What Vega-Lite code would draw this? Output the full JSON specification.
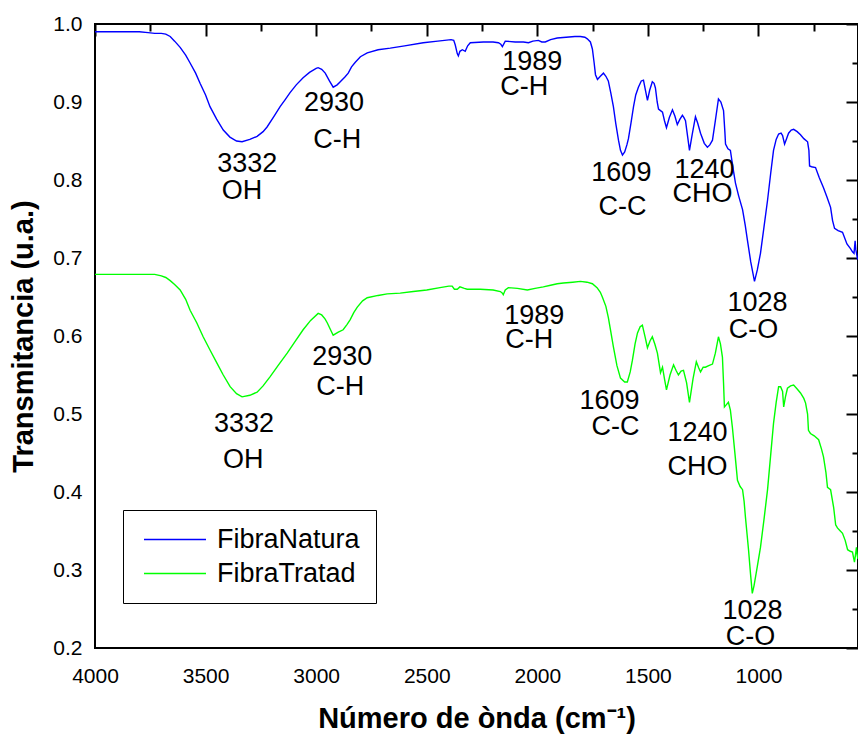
{
  "$schema": "https://vega.github.io/schema/vega-lite/v6.json",
  "width": 763,
  "height": 624,
  "autosize": {"type": "none"},
  "padding": {"left": 95, "top": 24, "right": 0, "bottom": 92},
  "background": "white",
  "config": {
    "view": {"stroke": "black", "strokeWidth": 2, "fill": null},
    "font": "Liberation Sans",
    "axis": {"grid": true, "ticks": false, "domain": false, "gridColor": "black", "gridWidth": 2, "gridCap": "butt", "gridOpacity": 1, "labelColor": "black", "labelFont": "Liberation Sans", "labelFontSize": 21, "titleColor": "black", "titleFont": "Liberation Sans", "titleFontSize": 29, "titleFontWeight": "bold"}
  },
  "datasets": {
    "spectra": [
      {"serie": "FibraNatura", "wn": 4000, "T": 0.990}, {"serie": "FibraNatura", "wn": 3900, "T": 0.990}, {"serie": "FibraNatura", "wn": 3800, "T": 0.990}, {"serie": "FibraNatura", "wn": 3760, "T": 0.989}, {"serie": "FibraNatura", "wn": 3730, "T": 0.988}, {"serie": "FibraNatura", "wn": 3700, "T": 0.988}, {"serie": "FibraNatura", "wn": 3680, "T": 0.987}, {"serie": "FibraNatura", "wn": 3660, "T": 0.984}, {"serie": "FibraNatura", "wn": 3640, "T": 0.978}, {"serie": "FibraNatura", "wn": 3615, "T": 0.970}, {"serie": "FibraNatura", "wn": 3590, "T": 0.960}, {"serie": "FibraNatura", "wn": 3570, "T": 0.950}, {"serie": "FibraNatura", "wn": 3545, "T": 0.937}, {"serie": "FibraNatura", "wn": 3525, "T": 0.924}, {"serie": "FibraNatura", "wn": 3500, "T": 0.909}, {"serie": "FibraNatura", "wn": 3480, "T": 0.894}, {"serie": "FibraNatura", "wn": 3450, "T": 0.878}, {"serie": "FibraNatura", "wn": 3420, "T": 0.864}, {"serie": "FibraNatura", "wn": 3390, "T": 0.855}, {"serie": "FibraNatura", "wn": 3360, "T": 0.850}, {"serie": "FibraNatura", "wn": 3335, "T": 0.849}, {"serie": "FibraNatura", "wn": 3300, "T": 0.852}, {"serie": "FibraNatura", "wn": 3267, "T": 0.856}, {"serie": "FibraNatura", "wn": 3240, "T": 0.862}, {"serie": "FibraNatura", "wn": 3222, "T": 0.868}, {"serie": "FibraNatura", "wn": 3190, "T": 0.882}, {"serie": "FibraNatura", "wn": 3163, "T": 0.894}, {"serie": "FibraNatura", "wn": 3140, "T": 0.903}, {"serie": "FibraNatura", "wn": 3118, "T": 0.912}, {"serie": "FibraNatura", "wn": 3090, "T": 0.922}, {"serie": "FibraNatura", "wn": 3059, "T": 0.931}, {"serie": "FibraNatura", "wn": 3030, "T": 0.938}, {"serie": "FibraNatura", "wn": 3000, "T": 0.943}, {"serie": "FibraNatura", "wn": 2991, "T": 0.944}, {"serie": "FibraNatura", "wn": 2975, "T": 0.942}, {"serie": "FibraNatura", "wn": 2959, "T": 0.937}, {"serie": "FibraNatura", "wn": 2940, "T": 0.927}, {"serie": "FibraNatura", "wn": 2923, "T": 0.919}, {"serie": "FibraNatura", "wn": 2905, "T": 0.922}, {"serie": "FibraNatura", "wn": 2891, "T": 0.926}, {"serie": "FibraNatura", "wn": 2870, "T": 0.932}, {"serie": "FibraNatura", "wn": 2855, "T": 0.937}, {"serie": "FibraNatura", "wn": 2840, "T": 0.945}, {"serie": "FibraNatura", "wn": 2823, "T": 0.951}, {"serie": "FibraNatura", "wn": 2800, "T": 0.958}, {"serie": "FibraNatura", "wn": 2769, "T": 0.963}, {"serie": "FibraNatura", "wn": 2720, "T": 0.967}, {"serie": "FibraNatura", "wn": 2665, "T": 0.969}, {"serie": "FibraNatura", "wn": 2600, "T": 0.972}, {"serie": "FibraNatura", "wn": 2516, "T": 0.976}, {"serie": "FibraNatura", "wn": 2450, "T": 0.978}, {"serie": "FibraNatura", "wn": 2390, "T": 0.980}, {"serie": "FibraNatura", "wn": 2378, "T": 0.979}, {"serie": "FibraNatura", "wn": 2371, "T": 0.973}, {"serie": "FibraNatura", "wn": 2362, "T": 0.962}, {"serie": "FibraNatura", "wn": 2357, "T": 0.959}, {"serie": "FibraNatura", "wn": 2350, "T": 0.965}, {"serie": "FibraNatura", "wn": 2339, "T": 0.967}, {"serie": "FibraNatura", "wn": 2326, "T": 0.965}, {"serie": "FibraNatura", "wn": 2315, "T": 0.972}, {"serie": "FibraNatura", "wn": 2303, "T": 0.976}, {"serie": "FibraNatura", "wn": 2244, "T": 0.977}, {"serie": "FibraNatura", "wn": 2200, "T": 0.977}, {"serie": "FibraNatura", "wn": 2176, "T": 0.976}, {"serie": "FibraNatura", "wn": 2165, "T": 0.974}, {"serie": "FibraNatura", "wn": 2158, "T": 0.971}, {"serie": "FibraNatura", "wn": 2145, "T": 0.978}, {"serie": "FibraNatura", "wn": 2100, "T": 0.977}, {"serie": "FibraNatura", "wn": 2063, "T": 0.977}, {"serie": "FibraNatura", "wn": 2040, "T": 0.976}, {"serie": "FibraNatura", "wn": 2020, "T": 0.978}, {"serie": "FibraNatura", "wn": 1995, "T": 0.979}, {"serie": "FibraNatura", "wn": 1980, "T": 0.977}, {"serie": "FibraNatura", "wn": 1964, "T": 0.977}, {"serie": "FibraNatura", "wn": 1940, "T": 0.980}, {"serie": "FibraNatura", "wn": 1910, "T": 0.982}, {"serie": "FibraNatura", "wn": 1870, "T": 0.983}, {"serie": "FibraNatura", "wn": 1830, "T": 0.984}, {"serie": "FibraNatura", "wn": 1805, "T": 0.984}, {"serie": "FibraNatura", "wn": 1785, "T": 0.983}, {"serie": "FibraNatura", "wn": 1774, "T": 0.981}, {"serie": "FibraNatura", "wn": 1760, "T": 0.977}, {"serie": "FibraNatura", "wn": 1751, "T": 0.968}, {"serie": "FibraNatura", "wn": 1743, "T": 0.950}, {"serie": "FibraNatura", "wn": 1737, "T": 0.935}, {"serie": "FibraNatura", "wn": 1728, "T": 0.929}, {"serie": "FibraNatura", "wn": 1715, "T": 0.933}, {"serie": "FibraNatura", "wn": 1701, "T": 0.937}, {"serie": "FibraNatura", "wn": 1690, "T": 0.933}, {"serie": "FibraNatura", "wn": 1679, "T": 0.927}, {"serie": "FibraNatura", "wn": 1668, "T": 0.912}, {"serie": "FibraNatura", "wn": 1656, "T": 0.894}, {"serie": "FibraNatura", "wn": 1645, "T": 0.872}, {"serie": "FibraNatura", "wn": 1633, "T": 0.851}, {"serie": "FibraNatura", "wn": 1624, "T": 0.838}, {"serie": "FibraNatura", "wn": 1615, "T": 0.832}, {"serie": "FibraNatura", "wn": 1605, "T": 0.836}, {"serie": "FibraNatura", "wn": 1595, "T": 0.845}, {"serie": "FibraNatura", "wn": 1588, "T": 0.853}, {"serie": "FibraNatura", "wn": 1576, "T": 0.874}, {"serie": "FibraNatura", "wn": 1565, "T": 0.894}, {"serie": "FibraNatura", "wn": 1555, "T": 0.909}, {"serie": "FibraNatura", "wn": 1543, "T": 0.919}, {"serie": "FibraNatura", "wn": 1530, "T": 0.927}, {"serie": "FibraNatura", "wn": 1520, "T": 0.928}, {"serie": "FibraNatura", "wn": 1511, "T": 0.915}, {"serie": "FibraNatura", "wn": 1502, "T": 0.902}, {"serie": "FibraNatura", "wn": 1492, "T": 0.915}, {"serie": "FibraNatura", "wn": 1480, "T": 0.926}, {"serie": "FibraNatura", "wn": 1472, "T": 0.924}, {"serie": "FibraNatura", "wn": 1466, "T": 0.918}, {"serie": "FibraNatura", "wn": 1458, "T": 0.900}, {"serie": "FibraNatura", "wn": 1452, "T": 0.891}, {"serie": "FibraNatura", "wn": 1443, "T": 0.889}, {"serie": "FibraNatura", "wn": 1434, "T": 0.887}, {"serie": "FibraNatura", "wn": 1425, "T": 0.876}, {"serie": "FibraNatura", "wn": 1416, "T": 0.867}, {"serie": "FibraNatura", "wn": 1403, "T": 0.880}, {"serie": "FibraNatura", "wn": 1389, "T": 0.890}, {"serie": "FibraNatura", "wn": 1378, "T": 0.882}, {"serie": "FibraNatura", "wn": 1367, "T": 0.871}, {"serie": "FibraNatura", "wn": 1355, "T": 0.878}, {"serie": "FibraNatura", "wn": 1344, "T": 0.883}, {"serie": "FibraNatura", "wn": 1337, "T": 0.880}, {"serie": "FibraNatura", "wn": 1330, "T": 0.876}, {"serie": "FibraNatura", "wn": 1320, "T": 0.855}, {"serie": "FibraNatura", "wn": 1312, "T": 0.838}, {"serie": "FibraNatura", "wn": 1300, "T": 0.858}, {"serie": "FibraNatura", "wn": 1285, "T": 0.881}, {"serie": "FibraNatura", "wn": 1275, "T": 0.873}, {"serie": "FibraNatura", "wn": 1262, "T": 0.860}, {"serie": "FibraNatura", "wn": 1245, "T": 0.847}, {"serie": "FibraNatura", "wn": 1231, "T": 0.842}, {"serie": "FibraNatura", "wn": 1220, "T": 0.845}, {"serie": "FibraNatura", "wn": 1208, "T": 0.851}, {"serie": "FibraNatura", "wn": 1195, "T": 0.876}, {"serie": "FibraNatura", "wn": 1181, "T": 0.904}, {"serie": "FibraNatura", "wn": 1170, "T": 0.900}, {"serie": "FibraNatura", "wn": 1158, "T": 0.889}, {"serie": "FibraNatura", "wn": 1152, "T": 0.862}, {"serie": "FibraNatura", "wn": 1149, "T": 0.846}, {"serie": "FibraNatura", "wn": 1138, "T": 0.840}, {"serie": "FibraNatura", "wn": 1127, "T": 0.838}, {"serie": "FibraNatura", "wn": 1115, "T": 0.815}, {"serie": "FibraNatura", "wn": 1104, "T": 0.796}, {"serie": "FibraNatura", "wn": 1090, "T": 0.780}, {"serie": "FibraNatura", "wn": 1072, "T": 0.762}, {"serie": "FibraNatura", "wn": 1060, "T": 0.742}, {"serie": "FibraNatura", "wn": 1050, "T": 0.723}, {"serie": "FibraNatura", "wn": 1035, "T": 0.695}, {"serie": "FibraNatura", "wn": 1018, "T": 0.670}, {"serie": "FibraNatura", "wn": 1005, "T": 0.685}, {"serie": "FibraNatura", "wn": 991, "T": 0.706}, {"serie": "FibraNatura", "wn": 975, "T": 0.740}, {"serie": "FibraNatura", "wn": 959, "T": 0.774}, {"serie": "FibraNatura", "wn": 945, "T": 0.808}, {"serie": "FibraNatura", "wn": 932, "T": 0.838}, {"serie": "FibraNatura", "wn": 920, "T": 0.852}, {"serie": "FibraNatura", "wn": 909, "T": 0.859}, {"serie": "FibraNatura", "wn": 898, "T": 0.860}, {"serie": "FibraNatura", "wn": 891, "T": 0.857}, {"serie": "FibraNatura", "wn": 882, "T": 0.846}, {"serie": "FibraNatura", "wn": 873, "T": 0.853}, {"serie": "FibraNatura", "wn": 864, "T": 0.860}, {"serie": "FibraNatura", "wn": 852, "T": 0.864}, {"serie": "FibraNatura", "wn": 841, "T": 0.865}, {"serie": "FibraNatura", "wn": 825, "T": 0.862}, {"serie": "FibraNatura", "wn": 810, "T": 0.858}, {"serie": "FibraNatura", "wn": 795, "T": 0.853}, {"serie": "FibraNatura", "wn": 778, "T": 0.849}, {"serie": "FibraNatura", "wn": 772, "T": 0.838}, {"serie": "FibraNatura", "wn": 769, "T": 0.818}, {"serie": "FibraNatura", "wn": 760, "T": 0.817}, {"serie": "FibraNatura", "wn": 742, "T": 0.816}, {"serie": "FibraNatura", "wn": 725, "T": 0.803}, {"serie": "FibraNatura", "wn": 706, "T": 0.790}, {"serie": "FibraNatura", "wn": 690, "T": 0.778}, {"serie": "FibraNatura", "wn": 674, "T": 0.765}, {"serie": "FibraNatura", "wn": 665, "T": 0.748}, {"serie": "FibraNatura", "wn": 656, "T": 0.738}, {"serie": "FibraNatura", "wn": 640, "T": 0.735}, {"serie": "FibraNatura", "wn": 620, "T": 0.733}, {"serie": "FibraNatura", "wn": 600, "T": 0.718}, {"serie": "FibraNatura", "wn": 584, "T": 0.712}, {"serie": "FibraNatura", "wn": 575, "T": 0.708}, {"serie": "FibraNatura", "wn": 568, "T": 0.706}, {"serie": "FibraNatura", "wn": 563, "T": 0.722}, {"serie": "FibraNatura", "wn": 560, "T": 0.711}, {"serie": "FibraNatura", "wn": 556, "T": 0.705}, {"serie": "FibraNatura", "wn": 552, "T": 0.698},
      {"serie": "FibraTratad", "wn": 4000, "T": 0.679}, {"serie": "FibraTratad", "wn": 3900, "T": 0.679}, {"serie": "FibraTratad", "wn": 3800, "T": 0.679}, {"serie": "FibraTratad", "wn": 3730, "T": 0.679}, {"serie": "FibraTratad", "wn": 3700, "T": 0.677}, {"serie": "FibraTratad", "wn": 3680, "T": 0.675}, {"serie": "FibraTratad", "wn": 3660, "T": 0.671}, {"serie": "FibraTratad", "wn": 3640, "T": 0.666}, {"serie": "FibraTratad", "wn": 3615, "T": 0.659}, {"serie": "FibraTratad", "wn": 3590, "T": 0.647}, {"serie": "FibraTratad", "wn": 3570, "T": 0.633}, {"serie": "FibraTratad", "wn": 3540, "T": 0.617}, {"serie": "FibraTratad", "wn": 3511, "T": 0.599}, {"serie": "FibraTratad", "wn": 3480, "T": 0.582}, {"serie": "FibraTratad", "wn": 3448, "T": 0.565}, {"serie": "FibraTratad", "wn": 3420, "T": 0.550}, {"serie": "FibraTratad", "wn": 3389, "T": 0.535}, {"serie": "FibraTratad", "wn": 3360, "T": 0.526}, {"serie": "FibraTratad", "wn": 3335, "T": 0.522}, {"serie": "FibraTratad", "wn": 3300, "T": 0.524}, {"serie": "FibraTratad", "wn": 3267, "T": 0.528}, {"serie": "FibraTratad", "wn": 3240, "T": 0.536}, {"serie": "FibraTratad", "wn": 3208, "T": 0.548}, {"serie": "FibraTratad", "wn": 3170, "T": 0.563}, {"serie": "FibraTratad", "wn": 3131, "T": 0.578}, {"serie": "FibraTratad", "wn": 3095, "T": 0.593}, {"serie": "FibraTratad", "wn": 3059, "T": 0.608}, {"serie": "FibraTratad", "wn": 3025, "T": 0.620}, {"serie": "FibraTratad", "wn": 2991, "T": 0.629}, {"serie": "FibraTratad", "wn": 2975, "T": 0.627}, {"serie": "FibraTratad", "wn": 2960, "T": 0.622}, {"serie": "FibraTratad", "wn": 2950, "T": 0.617}, {"serie": "FibraTratad", "wn": 2935, "T": 0.608}, {"serie": "FibraTratad", "wn": 2923, "T": 0.601}, {"serie": "FibraTratad", "wn": 2900, "T": 0.605}, {"serie": "FibraTratad", "wn": 2878, "T": 0.608}, {"serie": "FibraTratad", "wn": 2860, "T": 0.615}, {"serie": "FibraTratad", "wn": 2846, "T": 0.621}, {"serie": "FibraTratad", "wn": 2830, "T": 0.630}, {"serie": "FibraTratad", "wn": 2814, "T": 0.637}, {"serie": "FibraTratad", "wn": 2790, "T": 0.645}, {"serie": "FibraTratad", "wn": 2769, "T": 0.649}, {"serie": "FibraTratad", "wn": 2720, "T": 0.652}, {"serie": "FibraTratad", "wn": 2679, "T": 0.654}, {"serie": "FibraTratad", "wn": 2620, "T": 0.655}, {"serie": "FibraTratad", "wn": 2561, "T": 0.657}, {"serie": "FibraTratad", "wn": 2500, "T": 0.659}, {"serie": "FibraTratad", "wn": 2440, "T": 0.662}, {"serie": "FibraTratad", "wn": 2400, "T": 0.664}, {"serie": "FibraTratad", "wn": 2385, "T": 0.664}, {"serie": "FibraTratad", "wn": 2375, "T": 0.660}, {"serie": "FibraTratad", "wn": 2362, "T": 0.660}, {"serie": "FibraTratad", "wn": 2350, "T": 0.663}, {"serie": "FibraTratad", "wn": 2330, "T": 0.661}, {"serie": "FibraTratad", "wn": 2317, "T": 0.660}, {"serie": "FibraTratad", "wn": 2290, "T": 0.660}, {"serie": "FibraTratad", "wn": 2258, "T": 0.660}, {"serie": "FibraTratad", "wn": 2200, "T": 0.659}, {"serie": "FibraTratad", "wn": 2167, "T": 0.657}, {"serie": "FibraTratad", "wn": 2158, "T": 0.655}, {"serie": "FibraTratad", "wn": 2154, "T": 0.653}, {"serie": "FibraTratad", "wn": 2145, "T": 0.659}, {"serie": "FibraTratad", "wn": 2131, "T": 0.662}, {"serie": "FibraTratad", "wn": 2090, "T": 0.661}, {"serie": "FibraTratad", "wn": 2045, "T": 0.659}, {"serie": "FibraTratad", "wn": 2010, "T": 0.661}, {"serie": "FibraTratad", "wn": 1973, "T": 0.663}, {"serie": "FibraTratad", "wn": 1940, "T": 0.665}, {"serie": "FibraTratad", "wn": 1910, "T": 0.667}, {"serie": "FibraTratad", "wn": 1882, "T": 0.668}, {"serie": "FibraTratad", "wn": 1840, "T": 0.669}, {"serie": "FibraTratad", "wn": 1805, "T": 0.670}, {"serie": "FibraTratad", "wn": 1775, "T": 0.669}, {"serie": "FibraTratad", "wn": 1751, "T": 0.667}, {"serie": "FibraTratad", "wn": 1730, "T": 0.662}, {"serie": "FibraTratad", "wn": 1715, "T": 0.656}, {"serie": "FibraTratad", "wn": 1706, "T": 0.650}, {"serie": "FibraTratad", "wn": 1690, "T": 0.638}, {"serie": "FibraTratad", "wn": 1679, "T": 0.624}, {"serie": "FibraTratad", "wn": 1668, "T": 0.606}, {"serie": "FibraTratad", "wn": 1656, "T": 0.586}, {"serie": "FibraTratad", "wn": 1640, "T": 0.562}, {"serie": "FibraTratad", "wn": 1624, "T": 0.546}, {"serie": "FibraTratad", "wn": 1605, "T": 0.541}, {"serie": "FibraTratad", "wn": 1593, "T": 0.541}, {"serie": "FibraTratad", "wn": 1580, "T": 0.554}, {"serie": "FibraTratad", "wn": 1570, "T": 0.569}, {"serie": "FibraTratad", "wn": 1558, "T": 0.590}, {"serie": "FibraTratad", "wn": 1547, "T": 0.604}, {"serie": "FibraTratad", "wn": 1535, "T": 0.612}, {"serie": "FibraTratad", "wn": 1525, "T": 0.614}, {"serie": "FibraTratad", "wn": 1512, "T": 0.598}, {"serie": "FibraTratad", "wn": 1502, "T": 0.585}, {"serie": "FibraTratad", "wn": 1490, "T": 0.594}, {"serie": "FibraTratad", "wn": 1480, "T": 0.599}, {"serie": "FibraTratad", "wn": 1468, "T": 0.589}, {"serie": "FibraTratad", "wn": 1457, "T": 0.578}, {"serie": "FibraTratad", "wn": 1443, "T": 0.553}, {"serie": "FibraTratad", "wn": 1434, "T": 0.560}, {"serie": "FibraTratad", "wn": 1425, "T": 0.545}, {"serie": "FibraTratad", "wn": 1416, "T": 0.531}, {"serie": "FibraTratad", "wn": 1400, "T": 0.550}, {"serie": "FibraTratad", "wn": 1384, "T": 0.563}, {"serie": "FibraTratad", "wn": 1373, "T": 0.556}, {"serie": "FibraTratad", "wn": 1362, "T": 0.550}, {"serie": "FibraTratad", "wn": 1350, "T": 0.555}, {"serie": "FibraTratad", "wn": 1339, "T": 0.556}, {"serie": "FibraTratad", "wn": 1325, "T": 0.540}, {"serie": "FibraTratad", "wn": 1312, "T": 0.515}, {"serie": "FibraTratad", "wn": 1296, "T": 0.545}, {"serie": "FibraTratad", "wn": 1281, "T": 0.567}, {"serie": "FibraTratad", "wn": 1270, "T": 0.559}, {"serie": "FibraTratad", "wn": 1262, "T": 0.554}, {"serie": "FibraTratad", "wn": 1250, "T": 0.560}, {"serie": "FibraTratad", "wn": 1240, "T": 0.560}, {"serie": "FibraTratad", "wn": 1225, "T": 0.562}, {"serie": "FibraTratad", "wn": 1208, "T": 0.564}, {"serie": "FibraTratad", "wn": 1195, "T": 0.578}, {"serie": "FibraTratad", "wn": 1181, "T": 0.599}, {"serie": "FibraTratad", "wn": 1172, "T": 0.590}, {"serie": "FibraTratad", "wn": 1163, "T": 0.573}, {"serie": "FibraTratad", "wn": 1158, "T": 0.540}, {"serie": "FibraTratad", "wn": 1154, "T": 0.509}, {"serie": "FibraTratad", "wn": 1145, "T": 0.512}, {"serie": "FibraTratad", "wn": 1136, "T": 0.515}, {"serie": "FibraTratad", "wn": 1127, "T": 0.505}, {"serie": "FibraTratad", "wn": 1118, "T": 0.483}, {"serie": "FibraTratad", "wn": 1105, "T": 0.445}, {"serie": "FibraTratad", "wn": 1095, "T": 0.415}, {"serie": "FibraTratad", "wn": 1083, "T": 0.407}, {"serie": "FibraTratad", "wn": 1072, "T": 0.403}, {"serie": "FibraTratad", "wn": 1065, "T": 0.388}, {"serie": "FibraTratad", "wn": 1059, "T": 0.368}, {"serie": "FibraTratad", "wn": 1045, "T": 0.326}, {"serie": "FibraTratad", "wn": 1036, "T": 0.295}, {"serie": "FibraTratad", "wn": 1028, "T": 0.270}, {"serie": "FibraTratad", "wn": 1020, "T": 0.280}, {"serie": "FibraTratad", "wn": 1005, "T": 0.305}, {"serie": "FibraTratad", "wn": 991, "T": 0.329}, {"serie": "FibraTratad", "wn": 975, "T": 0.365}, {"serie": "FibraTratad", "wn": 959, "T": 0.403}, {"serie": "FibraTratad", "wn": 945, "T": 0.447}, {"serie": "FibraTratad", "wn": 932, "T": 0.488}, {"serie": "FibraTratad", "wn": 920, "T": 0.515}, {"serie": "FibraTratad", "wn": 909, "T": 0.535}, {"serie": "FibraTratad", "wn": 900, "T": 0.535}, {"serie": "FibraTratad", "wn": 891, "T": 0.529}, {"serie": "FibraTratad", "wn": 886, "T": 0.509}, {"serie": "FibraTratad", "wn": 878, "T": 0.522}, {"serie": "FibraTratad", "wn": 869, "T": 0.533}, {"serie": "FibraTratad", "wn": 855, "T": 0.536}, {"serie": "FibraTratad", "wn": 841, "T": 0.537}, {"serie": "FibraTratad", "wn": 825, "T": 0.532}, {"serie": "FibraTratad", "wn": 810, "T": 0.527}, {"serie": "FibraTratad", "wn": 795, "T": 0.520}, {"serie": "FibraTratad", "wn": 787, "T": 0.514}, {"serie": "FibraTratad", "wn": 778, "T": 0.500}, {"serie": "FibraTratad", "wn": 774, "T": 0.479}, {"serie": "FibraTratad", "wn": 765, "T": 0.475}, {"serie": "FibraTratad", "wn": 748, "T": 0.472}, {"serie": "FibraTratad", "wn": 728, "T": 0.467}, {"serie": "FibraTratad", "wn": 715, "T": 0.455}, {"serie": "FibraTratad", "wn": 706, "T": 0.445}, {"serie": "FibraTratad", "wn": 695, "T": 0.425}, {"serie": "FibraTratad", "wn": 688, "T": 0.406}, {"serie": "FibraTratad", "wn": 674, "T": 0.403}, {"serie": "FibraTratad", "wn": 660, "T": 0.380}, {"serie": "FibraTratad", "wn": 651, "T": 0.358}, {"serie": "FibraTratad", "wn": 643, "T": 0.354}, {"serie": "FibraTratad", "wn": 630, "T": 0.350}, {"serie": "FibraTratad", "wn": 620, "T": 0.347}, {"serie": "FibraTratad", "wn": 608, "T": 0.338}, {"serie": "FibraTratad", "wn": 597, "T": 0.326}, {"serie": "FibraTratad", "wn": 585, "T": 0.324}, {"serie": "FibraTratad", "wn": 575, "T": 0.323}, {"serie": "FibraTratad", "wn": 566, "T": 0.310}, {"serie": "FibraTratad", "wn": 562, "T": 0.318}, {"serie": "FibraTratad", "wn": 557, "T": 0.329}, {"serie": "FibraTratad", "wn": 553, "T": 0.318}, {"serie": "FibraTratad", "wn": 550, "T": 0.314}
    ],
    "labels": [
      {"label": "3332", "wn": 3312, "T": 0.821}, {"label": "OH", "wn": 3335, "T": 0.786},
      {"label": "2930", "wn": 2919, "T": 0.899}, {"label": "C-H", "wn": 2905, "T": 0.851},
      {"label": "1989", "wn": 2023, "T": 0.951}, {"label": "C-H", "wn": 2059, "T": 0.919},
      {"label": "1609", "wn": 1620, "T": 0.809}, {"label": "C-C", "wn": 1615, "T": 0.765},
      {"label": "1240", "wn": 1244, "T": 0.813}, {"label": "CHO", "wn": 1253, "T": 0.782},
      {"label": "1028", "wn": 1004, "T": 0.642}, {"label": "C-O", "wn": 1023, "T": 0.608},
      {"label": "3332", "wn": 3326, "T": 0.487}, {"label": "OH", "wn": 3330, "T": 0.441},
      {"label": "2930", "wn": 2882, "T": 0.573}, {"label": "C-H", "wn": 2891, "T": 0.535},
      {"label": "1989", "wn": 2014, "T": 0.626}, {"label": "C-H", "wn": 2036, "T": 0.595},
      {"label": "1609", "wn": 1674, "T": 0.517}, {"label": "C-C", "wn": 1647, "T": 0.483},
      {"label": "1240", "wn": 1276, "T": 0.476}, {"label": "CHO", "wn": 1276, "T": 0.432},
      {"label": "1028", "wn": 1027, "T": 0.247}, {"label": "C-O", "wn": 1036, "T": 0.214}
    ]
  },
  "resolve": {"axis": {"x": "independent", "y": "independent"}},
  "layer": [
    {
      "data": {"name": "spectra"},
      "mark": {"type": "line", "strokeWidth": 1.4, "interpolate": "linear"},
      "encoding": {
        "x": {
          "field": "wn", "type": "quantitative",
          "scale": {"domain": [550, 4000], "reverse": true, "nice": false, "zero": false},
          "axis": {
            "orient": "bottom",
            "values": [4000, 3750, 3500, 3250, 3000, 2750, 2500, 2250, 2000, 1750, 1500, 1250, 1000, 750],
            "format": "d",
            "labelExpr": "datum.value % 500 === 0 ? datum.label : ''",
            "gridDash": {"condition": {"test": "datum.value % 500 === 0", "value": [12, 2000]}, "value": [7, 2000]},
            "labelPadding": 17,
            "labelFlush": false,
            "labelOverlap": false,
            "title": "Número de ònda (cm⁻¹)",
            "titlePadding": 18
          }
        },
        "y": {
          "field": "T", "type": "quantitative",
          "scale": {"domain": [0.2, 1.0], "nice": false, "zero": false},
          "axis": {
            "orient": "left",
            "values": [0.2, 0.25, 0.3, 0.35, 0.4, 0.45, 0.5, 0.55, 0.6, 0.65, 0.7, 0.75, 0.8, 0.85, 0.9, 0.95, 1.0],
            "labelExpr": "round(datum.value * 100) % 10 === 0 ? format(datum.value, '.1f') : ''",
            "gridDash": {"condition": {"test": "round(datum.value * 100) % 10 === 0", "value": [12, 2000]}, "value": [6, 2000]},
            "labelPadding": 13,
            "labelFlush": false,
            "labelOverlap": false,
            "title": "Transmitancia (u.a.)",
            "titlePadding": 14
          }
        },
        "color": {
          "field": "serie", "type": "nominal",
          "scale": {"domain": ["FibraNatura", "FibraTratad"], "range": ["#0000ff", "#00ff00"]},
          "legend": {
            "orient": "none", "legendX": 28, "legendY": 486,
            "title": null,
            "strokeColor": "black", "fillColor": "white",
            "padding": 16, "symbolOffset": 4,
            "symbolType": "stroke", "symbolSize": 3844, "symbolStrokeWidth": 1.5,
            "clipHeight": 27, "rowPadding": 6,
            "labelFontSize": 27, "labelFont": "Liberation Sans", "labelColor": "black", "labelOffset": 10, "labelLimit": 400
          }
        }
      }
    },
    {
      "data": {"name": "labels"},
      "mark": {"type": "text", "fontSize": 27, "font": "Liberation Sans", "color": "black", "align": "center", "baseline": "middle"},
      "encoding": {
        "x": {
          "field": "wn", "type": "quantitative",
          "axis": {
            "orient": "top",
            "values": [4000, 3750, 3500, 3250, 3000, 2750, 2500, 2250, 2000, 1750, 1500, 1250, 1000, 750],
            "labels": false,
            "gridDash": {"condition": {"test": "datum.value % 500 === 0", "value": [12, 2000]}, "value": [7, 2000]},
            "title": null
          }
        },
        "y": {
          "field": "T", "type": "quantitative",
          "axis": {
            "orient": "right",
            "values": [0.2, 0.25, 0.3, 0.35, 0.4, 0.45, 0.5, 0.55, 0.6, 0.65, 0.7, 0.75, 0.8, 0.85, 0.9, 0.95, 1.0],
            "labels": false,
            "gridDash": {"condition": {"test": "round(datum.value * 100) % 10 === 0", "value": [10, 2000]}, "value": [5, 2000]},
            "title": null
          }
        },
        "text": {"field": "label", "type": "nominal"}
      }
    }
  ]
}
